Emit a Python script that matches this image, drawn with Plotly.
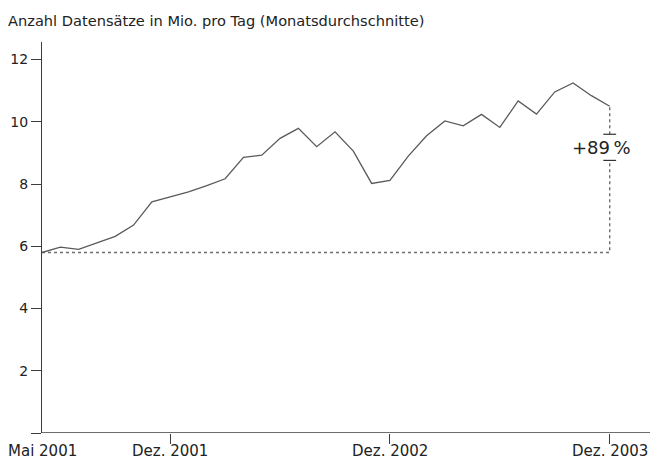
import plotly.graph_objects as go

# Monthly averages, May 2001 .. Dec 2003 (million records per day)
months = [
    "2001-05", "2001-06", "2001-07", "2001-08", "2001-09", "2001-10", "2001-11", "2001-12",
    "2002-01", "2002-02", "2002-03", "2002-04", "2002-05", "2002-06", "2002-07", "2002-08",
    "2002-09", "2002-10", "2002-11", "2002-12", "2003-01", "2003-02", "2003-03", "2003-04",
    "2003-05", "2003-06", "2003-07", "2003-08", "2003-09", "2003-10", "2003-11", "2003-12",
]
records = [
    5.80, 5.97, 5.90, 6.11, 6.32, 6.68, 7.43, 7.59,
    7.75, 7.95, 8.17, 8.86, 8.93, 9.47, 9.79, 9.20,
    9.68, 9.06, 8.02, 8.12, 8.90, 9.55, 10.03, 9.87,
    10.24, 9.82, 10.67, 10.25, 10.96, 11.25, 10.84, 10.50,
]
x_tick_months = ["2001-05", "2001-12", "2002-12", "2003-12"]
x_tick_labels = ["Mai 2001", "Dez. 2001", "Dez. 2002", "Dez. 2003"]
y_tick_values = [0, 2, 4, 6, 8, 10, 12]
y_tick_labels = ["", "2", "4", "6", "8", "10", "12"]
growth_label = "+89\u2009%"
title_text = "Anzahl Datensätze in Mio. pro Tag (Monatsdurchschnitte)"

idx = list(range(len(months)))
first, last = idx[0], idx[-1]
start_val, end_val = records[0], records[-1]

FONT = "DejaVu Sans"
LINE = "#5a5a5a"
AXIS = "#3c3c3c"
DOT = "#6e6e6e"
TEXT = "#222222"

# label centre and the gap around it on the vertical growth marker
label_y = 9.17
gap_top, gap_bot = label_y + 0.43, label_y - 0.41
cap_half = 0.35
x_max = 33.2

fig = go.Figure()

# baseline from the first month across to the last
fig.add_trace(go.Scatter(
    x=[first, last, last], y=[start_val, start_val, gap_bot],
    mode="lines", line=dict(color=DOT, width=1.4, dash="dot"),
    hoverinfo="skip", showlegend=False))
fig.add_trace(go.Scatter(
    x=[last, last], y=[gap_top, end_val],
    mode="lines", line=dict(color=DOT, width=1.4, dash="dot"),
    hoverinfo="skip", showlegend=False))
# small caps above and below the growth label
fig.add_trace(go.Scatter(
    x=[last - cap_half, last + cap_half, None, last - cap_half, last + cap_half],
    y=[gap_top, gap_top, None, gap_bot, gap_bot],
    mode="lines", line=dict(color="#333333", width=1.2),
    hoverinfo="skip", showlegend=False))

# main series
fig.add_trace(go.Scatter(
    x=idx, y=records, mode="lines",
    line=dict(color=LINE, width=1.3),
    hoverinfo="skip", showlegend=False))

tickvals = [months.index(m) for m in x_tick_months]

fig.add_annotation(
    x=last, y=label_y, xref="x", yref="y", text=growth_label,
    showarrow=False, xshift=-8,
    font=dict(family=FONT, size=18, color=TEXT))

fig.add_annotation(
    x=0, y=1, xref="paper", yref="paper", xanchor="left", yanchor="bottom",
    text=title_text, showarrow=False, xshift=-36, yshift=11,
    font=dict(family=FONT, size=14.6, color=TEXT))

# month labels under the time axis
for m, lab in zip(tickvals, x_tick_labels):
    fig.add_annotation(
        x=m, y=0, xref="x", yref="y", text=lab,
        showarrow=False, yanchor="top", yshift=-8, borderpad=0,
        font=dict(family=FONT, size=15, color=TEXT))

fig.update_layout(
    width=650, height=460,
    margin=dict(l=42, r=0, t=42, b=27),
    paper_bgcolor="white", plot_bgcolor="white",
    font=dict(family=FONT, color=TEXT),
    xaxis=dict(
        range=[0, x_max], tickmode="array",
        tickvals=tickvals[1:], showticklabels=False,
        ticks="outside", ticklen=10, tickcolor=AXIS, tickwidth=1,
        showline=False, showgrid=False, zeroline=False,
        automargin=False,
    ),
    yaxis=dict(
        range=[0, 12.565], tickmode="array",
        tickvals=y_tick_values, ticktext=y_tick_labels,
        ticks="outside", ticklen=10, tickcolor=AXIS, tickwidth=1,
        showline=True, linecolor=AXIS, linewidth=1.3,
        showgrid=False, zeroline=False,
        tickfont=dict(family=FONT, size=14, color=TEXT),
        automargin=False,
    ),
)

# horizontal axis line running to the right edge
fig.add_shape(type="line", xref="x", yref="y", x0=0, x1=x_max, y0=0, y1=0,
              line=dict(color=AXIS, width=1.3))

fig.write_html("out.html")
